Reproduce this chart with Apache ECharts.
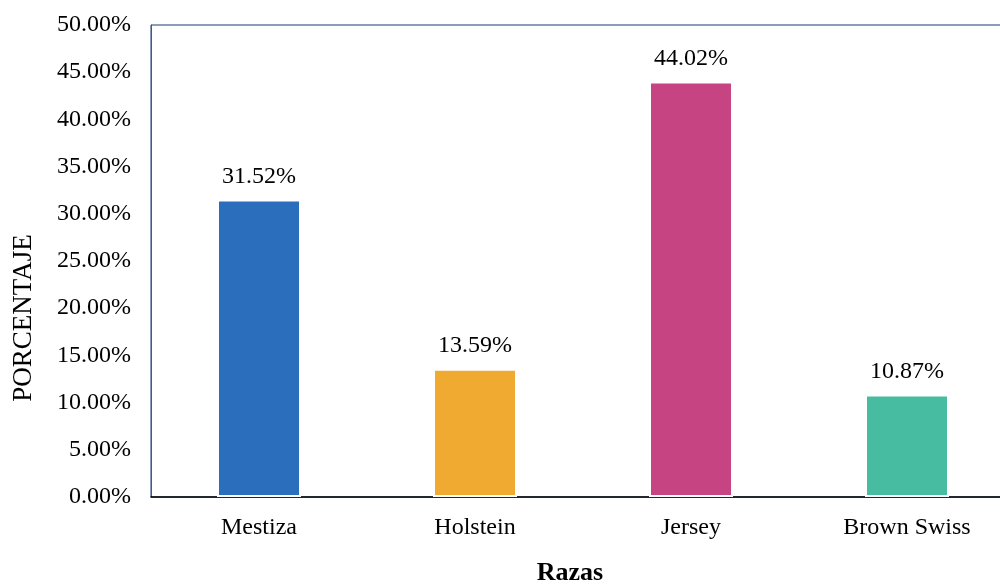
<!DOCTYPE html>
<html>
<head>
<meta charset="utf-8">
<script src="https://cdn.jsdelivr.net/npm/echarts@6/dist/echarts.min.js"></script>
<style>
  html, body { margin: 0; padding: 0; background: #fff; }
  #chart { width: 1000px; height: 584px; }
</style>
</head>
<body>
<div id="chart"></div>
<script>
const categories = ['Mestiza', 'Holstein', 'Jersey', 'Brown Swiss']
const values = [31.52, 13.59, 44.02, 10.87]
const colors = ['#2b6ebc', '#f0aa32', '#c74483', '#47bca0']

const font = '"Liberation Serif", "Times New Roman", serif'

const chart = echarts.init(document.getElementById('chart'))
chart.setOption({
  animation: false,
  grid: {
    left: 151,
    width: 864,
    top: 25,
    bottom: 87,
    outerBoundsMode: 'none',
    containLabel: false,
    show: true,
    borderColor: '#1f3a7a',
    borderWidth: 1,
  },
  xAxis: {
    type: 'category',
    data: categories,
    axisLine: { lineStyle: { color: '#000', width: 1.5 } },
    axisTick: { show: false },
    axisLabel: { color: '#000', fontFamily: font, fontSize: 24, margin: 19 },
  },
  yAxis: {
    type: 'value',
    min: 0,
    max: 50,
    interval: 5,
    splitLine: { show: false },
    axisLine: { show: true, lineStyle: { color: '#3b5a9a', width: 1 } },
    axisTick: { show: false },
    axisLabel: {
      color: '#000',
      fontFamily: font,
      fontSize: 24,
      margin: 20,
      formatter: (v) => v.toFixed(2) + '%',
    },
  },
  graphic: [
    {
      type: 'text',
      x: 24,
      y: 318,
      rotation: Math.PI / 2,
      style: {
        text: 'PORCENTAJE',
        fontFamily: font,
        fontSize: 27,
        fill: '#000',
        align: 'center',
        verticalAlign: 'middle',
      },
    },
    {
      type: 'text',
      x: 570,
      y: 573,
      style: {
        text: 'Razas',
        fontFamily: font,
        fontSize: 26,
        fontWeight: 'bold',
        fill: '#000',
        align: 'center',
        verticalAlign: 'middle',
      },
    },
  ],
  series: [
    {
      type: 'bar',
      barWidth: 84,
      data: values.map((v, i) => ({
        value: v,
        itemStyle: { color: colors[i], borderColor: '#ffffff', borderWidth: 2 },
      })),
      label: {
        show: true,
        position: 'top',
        distance: 11,
        color: '#000',
        fontFamily: font,
        fontSize: 24,
        formatter: (p) => p.value.toFixed(2) + '%',
      },
    },
  ],
})
</script>
</body>
</html>
